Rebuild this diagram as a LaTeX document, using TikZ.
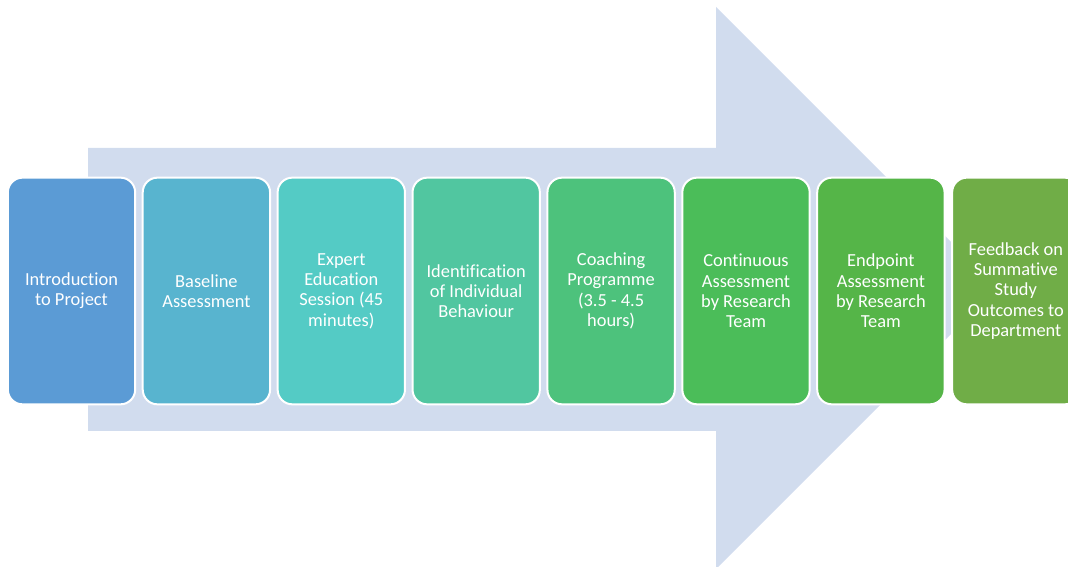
\documentclass[tikz,border=0pt]{standalone}
\usepackage{fontspec}
\setmainfont[Ligatures=NoCommon]{Carlito}
\usepackage{tikz}
\usepackage{xcolor}

\definecolor{arrowbg}{HTML}{D1DCEE}
\definecolor{c1}{HTML}{5B9BD5}
\definecolor{c2}{HTML}{58B4CF}
\definecolor{c3}{HTML}{54CBC5}
\definecolor{c4}{HTML}{51C6A0}
\definecolor{c5}{HTML}{4DC27C}
\definecolor{c6}{HTML}{4BBD59}
\definecolor{c7}{HTML}{55B548}
\definecolor{c8}{HTML}{70AD47}

\begin{document}
\begin{tikzpicture}[x=0.75pt, y=0.75pt,
    stage/.style={rectangle, rounded corners=11pt, draw=white, line width=1.5pt,
        minimum width=95.5pt, minimum height=170pt, inner sep=2pt,
        text=white, align=center, font=\fontsize{13.8}{15.2}\selectfont}]
\useasboundingbox (0,0) rectangle (1068,567);

% Big background arrow
\fill[arrowbg] (88,136) -- (88,419) -- (716,419) -- (716,560)
    -- (997,279) -- (716,-2) -- (716,136) -- cycle;

% Stages of the project
\foreach \i/\txt in {1/{Introduction\\to Project},
                     2/{Baseline\\Assessment},
                     3/{Expert\\Education\\Session (45\\minutes)},
                     4/{Identification\\of Individual\\Behaviour},
                     5/{Coaching\\Programme\\(3.5 - 4.5\\hours)},
                     6/{Continuous\\Assessment\\by Research\\Team},
                     7/{Endpoint\\Assessment\\by Research\\Team},
                     8/{Feedback on\\Summative\\Study\\Outcomes to\\Department}} {
    \node[stage, fill=c\i] (stage\i) at ({71.5+134.9*(\i-1)},276) {\txt};
}
\end{tikzpicture}
\end{document}
